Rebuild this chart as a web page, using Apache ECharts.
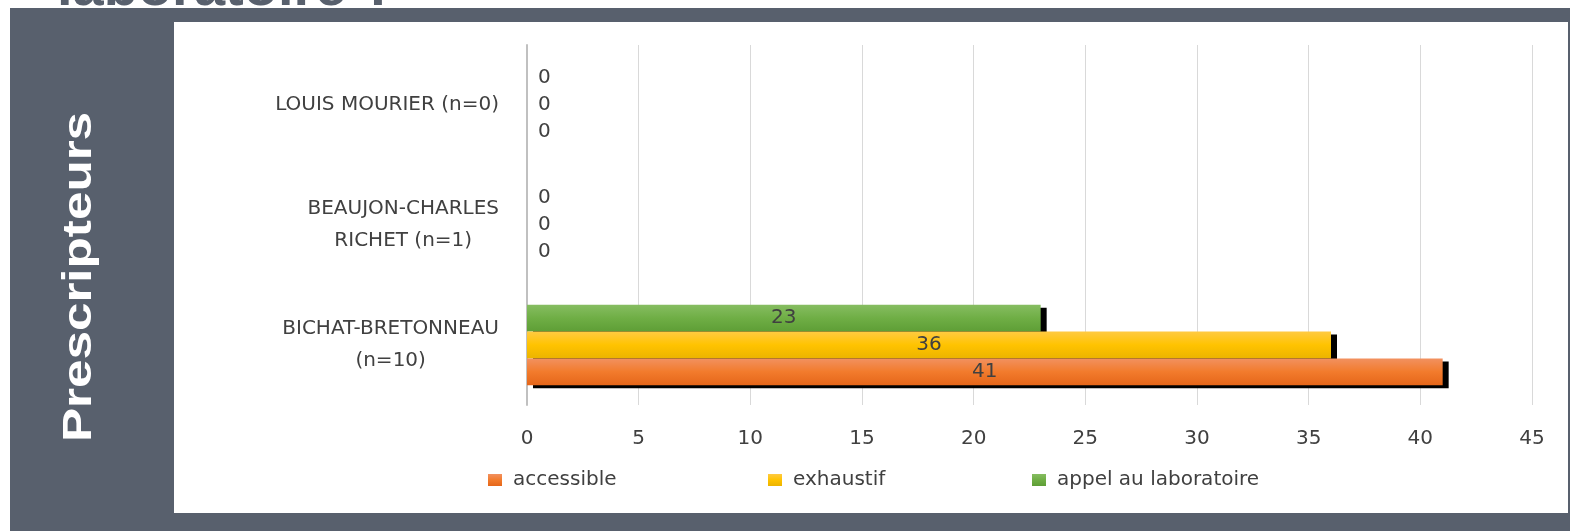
<!DOCTYPE html>
<html>
<head>
<meta charset="utf-8">
<script src="https://cdn.jsdelivr.net/npm/echarts@6/dist/echarts.min.js"></script>
<style>
html,body{margin:0;padding:0;background:#fff;}
#chart{width:1570px;height:531px;}
</style>
</head>
<body>
<div id="chart"></div>
<script>
const categories = ['BICHAT-BRETONNEAU\n(n=10)', 'BEAUJON-CHARLES\nRICHET (n=1)', 'LOUIS MOURIER (n=0)'];
const seriesNames = ['accessible', 'exhaustif', 'appel au laboratoire'];
const accessible = [41, 0, 0];
const exhaustif = [36, 0, 0];
const appel = [23, 0, 0];
const xTicks = { min: 0, max: 45, interval: 5 };
const axisTitle = 'Prescripteurs';
const topTitle = 'laboratoire ?';

const chart = echarts.init(document.getElementById('chart'));
const G = echarts.graphic.LinearGradient;
const fills = [
  new G(0, 0, 0, 1, [{offset: 0, color: '#f29160'}, {offset: 0.5, color: '#f27b2c'}, {offset: 1, color: '#e5661a'}]),
  new G(0, 0, 0, 1, [{offset: 0, color: '#ffca42'}, {offset: 0.5, color: '#ffc300'}, {offset: 1, color: '#ecb400'}]),
  new G(0, 0, 0, 1, [{offset: 0, color: '#86bd61'}, {offset: 0.5, color: '#6fae45'}, {offset: 1, color: '#5e9e36'}])
];
const valuesList = [accessible, exhaustif, appel];
const textColor = '#404040';
const font = 'DejaVu Sans';

function mkData(arr) {
  return arr.map(v => v === 0 ? {value: v, label: {position: 'right', distance: 11}} : v);
}

// ECharts places the first series at the top of each band, so add them in reverse
const order = [2, 1, 0];
const series = order.map(i => ({
  name: seriesNames[i],
  type: 'bar',
  z: 5 - i,
  barGap: '0%',
  barCategoryGap: '33%',
  data: mkData(valuesList[i]),
  itemStyle: {
    color: fills[i],
    shadowColor: '#000',
    shadowBlur: 0,
    shadowOffsetX: 6,
    shadowOffsetY: 3
  },
  label: {
    show: true,
    position: 'inside',
    color: textColor,
    fontFamily: font,
    fontSize: 20
  },
  emphasis: {disabled: true}
}));

const legendLefts = [483, 763, 1027];
const legends = seriesNames.map((name, i) => ({
  data: [name],
  left: legendLefts[i],
  top: 465,
  itemWidth: 14,
  itemHeight: 12,
  icon: 'rect',
  selectedMode: false,
  textStyle: {color: textColor, fontFamily: font, fontSize: 20, padding: [0, 0, 0, 6]}
}));

chart.setOption({
  animation: false,
  backgroundColor: '#ffffff',
  graphic: [
    {type: 'text', x: 57, y: 18, z: -3, silent: true,
     style: {text: topTitle, fill: '#58606d', font: 'bold 56px "Liberation Sans"', textAlign: 'left', textVerticalAlign: 'bottom', align: 'left', verticalAlign: 'bottom'}},
    {type: 'rect', z: -2, silent: true, shape: {x: 10, y: 8, width: 1560, height: 523}, style: {fill: '#58606d'}},
    {type: 'rect', z: -1, silent: true, shape: {x: 174, y: 22, width: 1394, height: 491}, style: {fill: '#ffffff'}},
    {type: 'text', x: 80, y: 277, rotation: Math.PI / 2, scaleX: 1.28, silent: true,
     style: {text: axisTitle, fill: '#ffffff', font: 'bold 40px "Liberation Sans"', textAlign: 'center', textVerticalAlign: 'middle', align: 'center', verticalAlign: 'middle'}}
  ],
  grid: {left: 527, right: 38, top: 45, bottom: 126, containLabel: false},
  legend: legends,
  xAxis: {
    type: 'value',
    min: xTicks.min, max: xTicks.max, interval: xTicks.interval,
    axisLine: {show: false},
    axisTick: {show: false},
    axisLabel: {color: textColor, fontFamily: font, fontSize: 20, margin: 24},
    splitLine: {show: true, lineStyle: {color: '#d9d9d9', width: 1}}
  },
  yAxis: {
    type: 'category',
    data: categories,
    axisLine: {show: true, lineStyle: {color: '#c0c0c0', width: 2}},
    axisTick: {show: false},
    axisLabel: {
      align: 'right',
      margin: 28,
      formatter: v => v.split('\n').map(s => '{a|' + s + '}').join('\n'),
      rich: {a: {align: 'center', color: textColor, fontFamily: font, fontSize: 20, lineHeight: 32}}
    }
  },
  series: series
});
</script>
</body>
</html>
